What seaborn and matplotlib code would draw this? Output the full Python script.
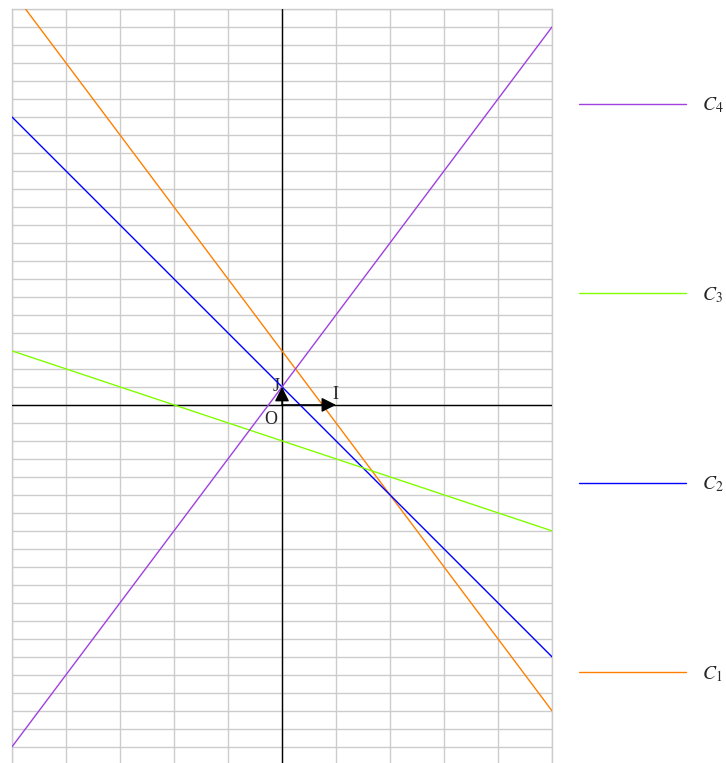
import numpy as np
import pandas as pd
import matplotlib
matplotlib.use("Agg")
import matplotlib.pyplot as plt
import seaborn as sns
from matplotlib.lines import Line2D

# Data: lines y = a*x + b over x in [-5, 5]
curve_names = ["C1", "C2", "C3", "C4"]
slopes = [-4, -3, -1, 4]
intercepts = [3, 1, -2, 1]
colors = ["#ff8000", "#0000ff", "#80ff00", "#a040e0"]
labels = [r"$C_1$", r"$C_2$", r"$C_3$", r"$C_4$"]
x_ends = [-5, 5]
xmin, xmax = -5, 5
ymin, ymax = -19.9, 22

sns.set_theme(style="white")
plt.rcParams["mathtext.fontset"] = "stix"
plt.rcParams["font.family"] = ["Liberation Serif", "DejaVu Serif"]

rows = []
for name, a, b in zip(curve_names, slopes, intercepts):
    for x in x_ends:
        rows.append({"curve": name, "x": x, "y": a * x + b})
df = pd.DataFrame(rows)

W, H = 726, 763
fig = plt.figure(figsize=(W / 100, H / 100), dpi=100)
ax = fig.add_axes([12 / W, 0, 540 / W, (H - 9) / H])

ax.set_xlim(xmin, xmax)
ax.set_ylim(ymin, ymax)
ax.set_xticks(np.arange(xmin, xmax + 1, 1))
ax.set_yticks(np.arange(-19, 23, 1))
ax.grid(True, color="#cccccc", lw=1)
ax.tick_params(left=False, bottom=False, labelleft=False, labelbottom=False)
for s in ["top", "left", "right"]:
    ax.spines[s].set_visible(True)
    ax.spines[s].set_color("#cccccc")
    ax.spines[s].set_linewidth(1)
ax.spines["bottom"].set_visible(False)

ax.axhline(0, color="black", lw=1, zorder=3)
ax.axvline(0, color="black", lw=1, zorder=3)

palette = dict(zip(curve_names, colors))
sns.lineplot(data=df, x="x", y="y", hue="curve", palette=palette,
             lw=1, ax=ax, legend=False, zorder=4)

# unit vectors
for tip in [(1, 0), (0, 1)]:
    ax.annotate("", xy=tip, xytext=(0, 0),
                arrowprops=dict(arrowstyle="-|>", color="black", lw=1,
                                mutation_scale=22, shrinkA=0, shrinkB=0),
                zorder=5)
ax.text(0.93, 0.6, "I", fontsize=13, ha="left", va="center")
ax.text(-0.05, 1.0, "J", fontsize=13, ha="right", va="center")
ax.text(-0.2, -0.8, "O", fontsize=13, ha="center", va="center")

# legend
handles = [Line2D([], [], color=c, lw=1) for c in colors]
order = [3, 2, 1, 0]
fig.legend([handles[i] for i in order], [labels[i] for i in order],
           loc="upper left", bbox_to_anchor=(571 / W, 1 - 88 / H),
           frameon=False, fontsize=14, handlelength=5.5, handletextpad=0.85,
           labelspacing=8.73, borderaxespad=0)

fig.savefig("out.png", dpi=100)
